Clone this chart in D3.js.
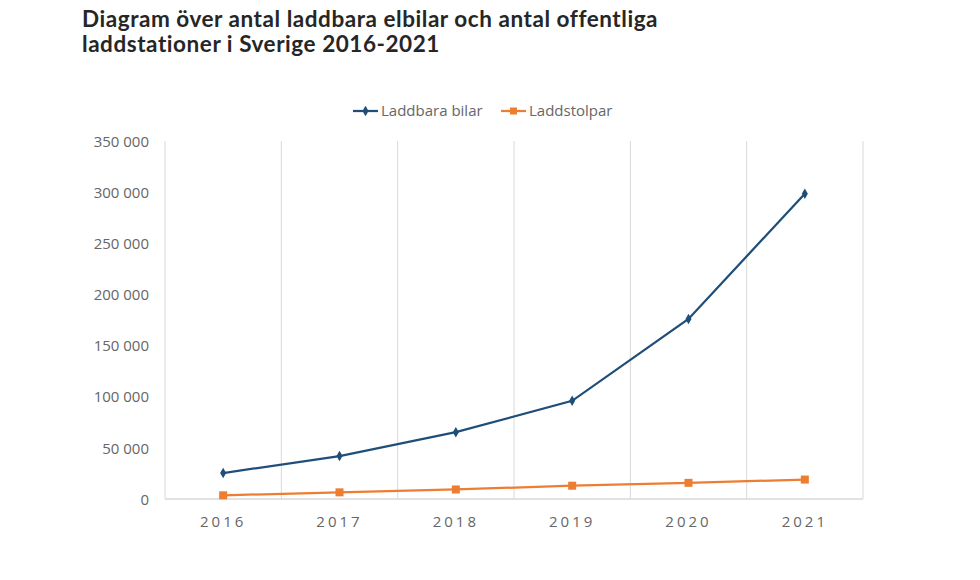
<!DOCTYPE html>
<html>
<head>
<meta charset="utf-8">
<script src="https://cdn.jsdelivr.net/npm/d3@7"></script>
<style>
  body { margin: 0; background: #fff; }
  svg text { font-family: "Open Sans", sans-serif; }
</style>
</head>
<body>
<div id="chart"></div>
<script>
"use strict";

// data
var years = ["2016", "2017", "2018", "2019", "2020", "2021"];
var laddbaraBilar = [25400, 42000, 65300, 96000, 176000, 298500];
var laddstolpar = [3600, 6500, 9300, 13000, 15800, 19000];
var yTicks = [0, 50000, 100000, 150000, 200000, 250000, 300000, 350000];
var titleLines = ["Diagram över antal laddbara elbilar och antal offentliga",
                  "laddstationer i Sverige 2016-2021"];

var W = 980, H = 580;
var margin = { top: 141, right: 117, bottom: 81, left: 165 },
    width = W - margin.left - margin.right,
    height = H - margin.top - margin.bottom;

var blue = "#1f4e79", orange = "#ed7d31", grid = "#d9d9d9", labelCol = "#666666";

var svg = d3.select("#chart").append("svg")
  .attr("width", W).attr("height", H);

// title, one text per line
svg.selectAll(".title").data(titleLines).enter().append("text")
  .attr("class", "title")
  .attr("x", 82).attr("y", function (d, i) { return 27 + i * 25; })
  .style("font-family", "Lato, sans-serif")
  .style("font-size", "22.5px").style("font-weight", "bold").style("fill", "#262626")
  .style("letter-spacing", "0.55px")
  .style("font-variant-ligatures", "none")
  .text(function (d) { return d; });

var g = svg.append("g")
  .attr("transform", "translate(" + margin.left + "," + margin.top + ")");

var x = d3.scaleBand().domain(years).range([0, width]);
var y = d3.scaleLinear().domain([0, 350000]).range([height, 0]);

// vertical gridlines at category boundaries
var bounds = years.map(function (d) { return x(d); }).concat([width]);
g.selectAll(".vgrid").data(bounds).enter().append("line")
  .attr("class", "vgrid")
  .attr("x1", function (d) { return d; }).attr("x2", function (d) { return d; })
  .attr("y1", 0).attr("y2", height)
  .attr("stroke", grid).attr("stroke-width", 1);

// x axis baseline
g.append("line")
  .attr("x1", 0).attr("x2", width).attr("y1", height).attr("y2", height)
  .attr("stroke", grid).attr("stroke-width", 1.5);

// y axis labels
var fmt = function (v) { return d3.format(",")(v).replace(/,/g, " "); };
var yAxis = d3.axisLeft(y).tickValues(yTicks).tickSize(0).tickPadding(16).tickFormat(fmt);
g.append("g").call(yAxis)
  .call(function (s) { s.select(".domain").remove(); })
  .selectAll("text")
  .style("font-size", "15px").style("fill", labelCol).attr("dy", "0.35em");

// x axis labels
var xAxis = d3.axisBottom(x).tickSize(0).tickPadding(17);
g.append("g").attr("transform", "translate(0," + height + ")").call(xAxis)
  .call(function (s) { s.select(".domain").remove(); })
  .selectAll("text")
  .style("font-size", "15px").style("fill", labelCol).style("letter-spacing", "3px")
  .attr("dy", "0.71em");

var cx = function (d, i) { return x(years[i]) + x.bandwidth() / 2; };
var line = d3.line().x(cx).y(function (d) { return y(d); });

// Laddstolpar
g.append("path").datum(laddstolpar)
  .attr("d", line).attr("fill", "none")
  .attr("stroke", orange).attr("stroke-width", 2.25);
g.selectAll(".sq").data(laddstolpar).enter().append("rect")
  .attr("class", "sq")
  .attr("x", function (d, i) { return cx(d, i) - 4; })
  .attr("y", function (d) { return y(d) - 4; })
  .attr("width", 8).attr("height", 8)
  .attr("fill", orange);

// Laddbara bilar
g.append("path").datum(laddbaraBilar)
  .attr("d", line).attr("fill", "none")
  .attr("stroke", blue).attr("stroke-width", 2.25);
var diamond = d3.symbol().type(d3.symbolDiamond).size(32);
g.selectAll(".dia").data(laddbaraBilar).enter().append("path")
  .attr("class", "dia")
  .attr("d", diamond)
  .attr("transform", function (d, i) { return "translate(" + cx(d, i) + "," + y(d) + ")"; })
  .attr("fill", blue);

// legend
var legendItems = [
  { name: "Laddbara bilar", color: blue, x: 353, mark: "diamond" },
  { name: "Laddstolpar", color: orange, x: 501, mark: "square" }
];
var lg = svg.selectAll(".legend").data(legendItems).enter().append("g")
  .attr("class", "legend")
  .attr("transform", function (d) { return "translate(" + d.x + ",111)"; });
lg.append("line")
  .attr("x1", 0).attr("x2", 25).attr("y1", 0).attr("y2", 0)
  .attr("stroke", function (d) { return d.color; }).attr("stroke-width", 2.25);
lg.append("path")
  .attr("d", function (d) {
    return d.mark === "diamond" ? diamond() : d3.symbol().type(d3.symbolSquare).size(49)();
  })
  .attr("transform", "translate(12.5,0)")
  .attr("fill", function (d) { return d.color; });
lg.append("text")
  .attr("x", 28).attr("y", 0).attr("dy", "0.35em")
  .style("font-size", "15px").style("fill", labelCol)
  .text(function (d) { return d.name; });
</script>
</body>
</html>
